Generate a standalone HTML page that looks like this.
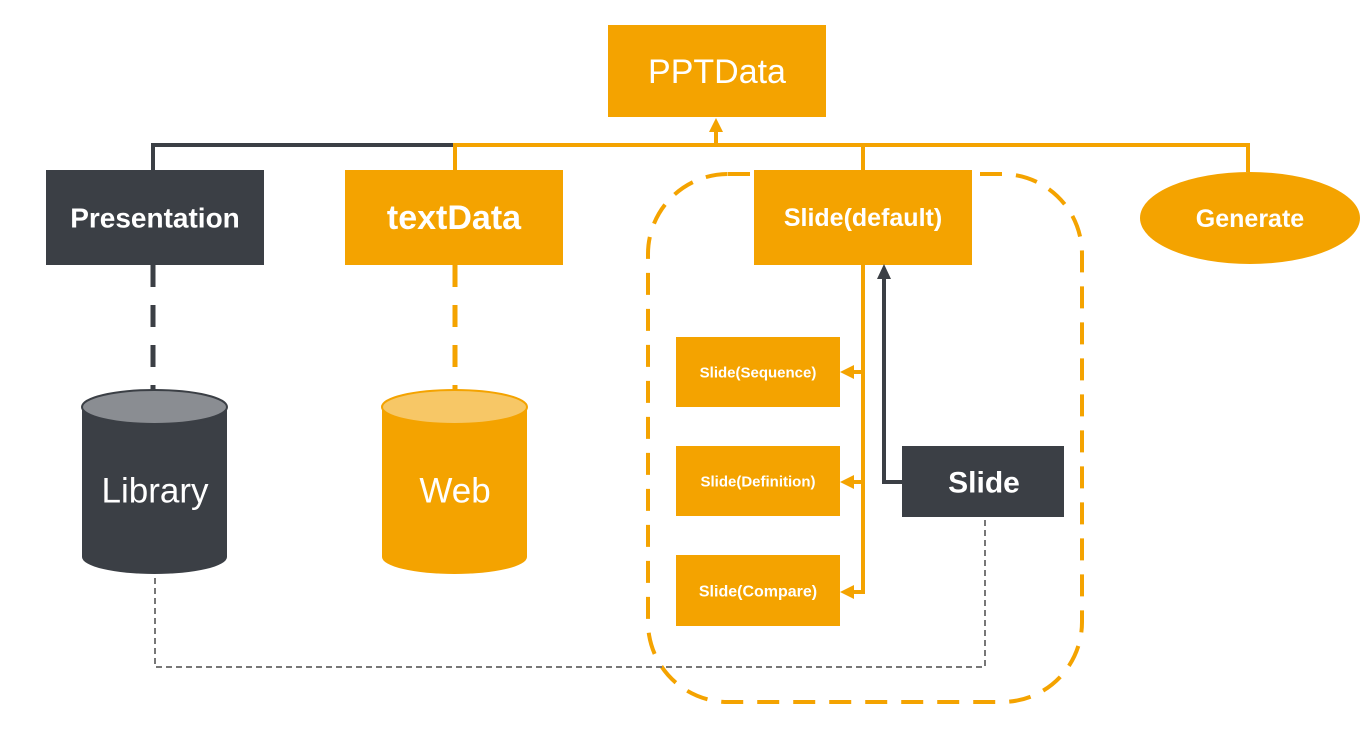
<!DOCTYPE html>
<html><head><meta charset="utf-8"><style>
html,body{margin:0;padding:0;background:#fff;}
svg{display:block;}
text{font-family:"Liberation Sans",sans-serif;fill:#fff;text-anchor:middle;dominant-baseline:central;}
.b{font-weight:bold;}
</style></head><body>
<svg width="1372" height="730" viewBox="0 0 1372 730" xmlns="http://www.w3.org/2000/svg">
<rect x="648" y="174" width="434" height="528" rx="80" ry="80" fill="none" stroke="#F4A300" stroke-width="4" stroke-dasharray="22,14"/>
<polyline points="153,170 153,145 455,145" fill="none" stroke="#3B3F45" stroke-width="4"/>
<polyline points="455,170 455,145 1248,145 1248,172" fill="none" stroke="#F4A300" stroke-width="4"/>
<line x1="863" y1="145" x2="863" y2="172" stroke="#F4A300" stroke-width="4"/>
<line x1="716" y1="145" x2="716" y2="128" stroke="#F4A300" stroke-width="4"/>
<polygon points="716,118 709,132 723,132" fill="#F4A300"/>
<rect x="608" y="25" width="218" height="92" fill="#F4A300"/>
<text x="717" y="72" font-size="34">PPTData</text>
<rect x="46" y="170" width="218" height="95" fill="#3B3F45"/>
<text class="b" x="155" y="218" font-size="28">Presentation</text>
<rect x="345" y="170" width="218" height="95" fill="#F4A300"/>
<text class="b" x="454" y="218" font-size="34">textData</text>
<rect x="754" y="170" width="218" height="95" fill="#F4A300"/>
<text class="b" x="863" y="218" font-size="25">Slide(default)</text>
<ellipse cx="1250" cy="218" rx="110" ry="46" fill="#F4A300"/>
<text class="b" x="1250" y="219" font-size="25">Generate</text>
<line x1="153" y1="265" x2="153" y2="392" stroke="#3B3F45" stroke-width="5" stroke-dasharray="22,18"/>
<line x1="455" y1="265" x2="455" y2="392" stroke="#F4A300" stroke-width="5" stroke-dasharray="22,18"/>
<path d="M82,407 L82,557 A72.5,17 0 0 0 227,557 L227,407 Z" fill="#3B3F45"/>
<ellipse cx="154.5" cy="407" rx="72.5" ry="17" fill="#8A8D92" stroke="#3B3F45" stroke-width="2"/>
<text x="155" y="491" font-size="35">Library</text>
<path d="M382,407 L382,557 A72.5,17 0 0 0 527,557 L527,407 Z" fill="#F4A300"/>
<ellipse cx="454.5" cy="407" rx="72.5" ry="17" fill="#F7C766" stroke="#F4A300" stroke-width="2"/>
<text x="455" y="491" font-size="35">Web</text>
<polyline points="863,265 863,592 852,592" fill="none" stroke="#F4A300" stroke-width="4"/>
<line x1="863" y1="372" x2="852" y2="372" stroke="#F4A300" stroke-width="4"/>
<line x1="863" y1="482" x2="852" y2="482" stroke="#F4A300" stroke-width="4"/>
<polygon points="840,372 854,365 854,379" fill="#F4A300"/>
<polygon points="840,482 854,475 854,489" fill="#F4A300"/>
<polygon points="840,592 854,585 854,599" fill="#F4A300"/>
<rect x="676" y="337" width="164" height="70" fill="#F4A300"/>
<text class="b" x="758" y="373" font-size="15">Slide(Sequence)</text>
<rect x="676" y="446" width="164" height="70" fill="#F4A300"/>
<text class="b" x="758" y="482" font-size="15">Slide(Definition)</text>
<rect x="676" y="555" width="164" height="71" fill="#F4A300"/>
<text class="b" x="758" y="592" font-size="16">Slide(Compare)</text>
<polyline points="902,482 884,482 884,278" fill="none" stroke="#3B3F45" stroke-width="4"/>
<polygon points="884,264 877,279 891,279" fill="#3B3F45"/>
<rect x="902" y="446" width="162" height="71" fill="#3B3F45"/>
<text class="b" x="984" y="483" font-size="30">Slide</text>
<polyline points="985,520 985,667 155,667 155,575" fill="none" stroke="#777" stroke-width="2" stroke-dasharray="6,4"/>
</svg>
</body></html>
